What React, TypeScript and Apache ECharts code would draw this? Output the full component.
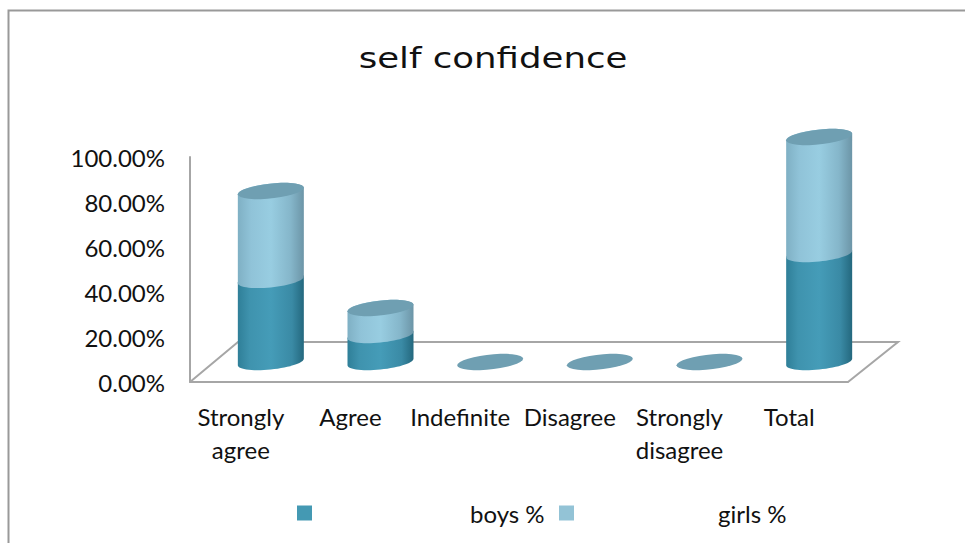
import React, { useEffect, useRef } from "react";
import * as echarts from "echarts";

const categories = ["Strongly agree", "Agree", "Indefinite", "Disagree", "Strongly disagree", "Total"];
const boys = [36.5, 12, 0, 0, 0, 48];
const girls = [39.5, 12, 0, 0, 0, 52];
const yTicks = [0, 20, 40, 60, 80, 100];

const FONT = "Lato";
const DEPTH_X = 26;
const DEPTH_Y = 20;
const RX = 33;
const RY = 7.5;
const TILT = 0.1;
const LINE = "#a6a6a6";

function ellipsePoint(cx: number, cy: number, t: number) {
  return [cx + RX * Math.cos(t), cy + RY * Math.sin(t) - TILT * RX * Math.cos(t)];
}
function arc(cx: number, cy: number, from: number, to: number) {
  const pts: number[][] = [];
  const n = 30;
  for (let i = 0; i <= n; i++) pts.push(ellipsePoint(cx, cy, from + ((to - from) * i) / n));
  return pts;
}

const boysGrad = () =>
  new echarts.graphic.LinearGradient(0, 0, 1, 0, [
    { offset: 0, color: "#2f7f98" },
    { offset: 0.18, color: "#3f93ae" },
    { offset: 0.5, color: "#459cb8" },
    { offset: 0.82, color: "#3a8aa5" },
    { offset: 1, color: "#24687e" },
  ]);
const girlsGrad = () =>
  new echarts.graphic.LinearGradient(0, 0, 1, 0, [
    { offset: 0, color: "#7fb0c4" },
    { offset: 0.2, color: "#90c3d8" },
    { offset: 0.5, color: "#98cde1" },
    { offset: 0.8, color: "#85b6ca" },
    { offset: 1, color: "#6c95a7" },
  ]);

function makeRender(isTop: boolean) {
  return (_: any, api: any) => {
    const idx = api.value(0);
    const start = api.value(1);
    const end = api.value(2);
    const p0 = api.coord([idx, start]);
    const p1 = api.coord([idx, end]);
    const cx = p0[0] + DEPTH_X;
    const yb = p0[1] - DEPTH_Y;
    const yt = p1[1] - DEPTH_Y;
    const children: any[] = [];
    if (end > start) {
      const pts = [...arc(cx, yt, 0, -Math.PI), ...arc(cx, yb, Math.PI, 0)];
      children.push({
        type: "polygon",
        shape: { points: pts },
        style: { fill: isTop ? girlsGrad() : boysGrad(), stroke: null },
      });
    }
    if (isTop) {
      children.push({
        type: "polygon",
        shape: { points: arc(cx, yt, 0, Math.PI * 2) },
        style: { fill: "#6f9fb2", stroke: null },
      });
    }
    return { type: "group", children };
  };
}

export default function App() {
  const ref = useRef<HTMLDivElement>(null);
  useEffect(() => {
    const chart = echarts.init(ref.current!, null, { renderer: "svg" });
    const lineStyle = { stroke: LINE, lineWidth: 2, fill: null };
    const legendText = { fontFamily: FONT, fontSize: 24, color: "#111111" };
    chart.setOption({
      animation: false,
      backgroundColor: "#ffffff",
      grid: { left: 190, right: 117, top: 157, bottom: 161 },
      legend: [
        {
          left: 292,
          top: 496,
          icon: "rect",
          itemWidth: 15,
          itemHeight: 15,
          data: ["boys %"],
          textStyle: { ...legendText, padding: [0, 0, 0, 153] },
        },
        {
          left: 554,
          top: 496,
          icon: "rect",
          itemWidth: 15,
          itemHeight: 15,
          data: ["girls %"],
          textStyle: { ...legendText, padding: [0, 0, 0, 139] },
        },
      ],
      xAxis: {
        type: "category",
        data: categories,
        axisLine: { lineStyle: { color: LINE, width: 2 } },
        axisTick: { show: false },
        axisLabel: {
          fontFamily: FONT,
          fontSize: 24,
          color: "#111111",
          lineHeight: 33,
          margin: 18,
          interval: 0,
          padding: [0, 8, 0, 0],
          formatter: (v: string) => v.replace(" ", "\n"),
        },
      },
      yAxis: {
        type: "value",
        min: 0,
        max: 100,
        interval: 20,
        axisLine: { show: true, lineStyle: { color: LINE, width: 2 } },
        axisTick: { show: false },
        splitLine: { show: false },
        axisLabel: {
          fontFamily: FONT,
          fontSize: 24,
          color: "#111111",
          margin: 25,
          customValues: yTicks,
          formatter: (v: number) => v.toFixed(2) + "%",
        },
      },
      graphic: [
        { type: "polyline", shape: { points: [[8.5, 543], [8.5, 10.5], [965, 10.5]] }, style: { stroke: "#999999", lineWidth: 2, fill: null } },
        { type: "polyline", shape: { points: [[190, 382], [238, 342], [898, 342], [848, 382]] }, style: lineStyle },
        {
          type: "text",
          x: 493,
          y: 58,
          scaleX: 1.27,
          style: {
            text: "self confidence",
            fontFamily: "DejaVu Sans",
            fontSize: 28,
            fill: "#111111",
            align: "center",
            verticalAlign: "middle",
          },
        },
      ],
      series: [
        {
          name: "boys %",
          type: "custom",
          renderItem: makeRender(false),
          itemStyle: { color: "#4499b3" },
          encode: { x: 0, y: [1, 2] },
          data: boys.map((v, i) => [i, 0, v]),
        },
        {
          name: "girls %",
          type: "custom",
          renderItem: makeRender(true),
          itemStyle: { color: "#93c3d6" },
          encode: { x: 0, y: [1, 2] },
          data: girls.map((v, i) => [i, boys[i], boys[i] + v]),
        },
      ],
    });
    return () => chart.dispose();
  }, []);
  return <div ref={ref} style={{ position: "fixed", left: 0, top: 0, width: 965, height: 543 }} />;
}
